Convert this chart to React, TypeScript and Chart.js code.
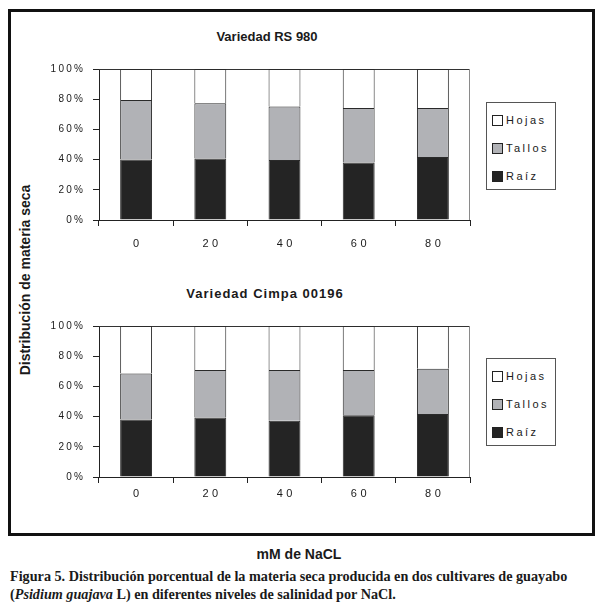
import React, { useEffect, useRef } from 'react';
import { Chart, registerables } from 'chart.js';

Chart.register(...registerables);

// ---- data ----
const categories = ['0', '20', '40', '60', '80'];
const seriesNames = ['Raíz', 'Tallos', 'Hojas'];
const seriesColors = ['#242424', '#b1b2b6', '#ffffff'];

const rsRaiz = [40.0, 40.7, 39.8, 38.0, 41.8];
const rsTallos = [39.4, 36.7, 35.4, 36.1, 32.3];
const rsHojas = [20.6, 22.6, 24.8, 25.9, 25.9];

const cimpaRaiz = [38.1, 39.4, 37.2, 40.9, 41.8];
const cimpaTallos = [30.5, 31.4, 33.6, 29.9, 29.9];
const cimpaHojas = [31.4, 29.2, 29.2, 29.2, 28.3];

const yTicks = [0, 20, 40, 60, 80, 100];

const SANS = '"Liberation Sans", Arial, Helvetica, sans-serif';
const SERIF = '"Liberation Serif", "Times New Roman", serif';

function makeTickPlugin(xLabelOffset: number) {
  return {
    id: 'tickLabels',
    beforeDatasetsDraw(chart: any) {
      const ctx = chart.ctx;
      const a = chart.chartArea;
      ctx.save();
      ctx.lineWidth = 1;
      // plot area frame: top (dark) and right (gray)
      ctx.strokeStyle = '#333';
      ctx.beginPath();
      ctx.moveTo(a.left, Math.round(a.top) + 0.5);
      ctx.lineTo(a.right, Math.round(a.top) + 0.5);
      ctx.stroke();
      ctx.strokeStyle = '#8a8a8a';
      ctx.beginPath();
      ctx.moveTo(Math.round(a.right) - 0.5, a.top);
      ctx.lineTo(Math.round(a.right) - 0.5, a.bottom);
      ctx.stroke();
      ctx.restore();
    },
    afterDraw(chart: any) {
      const ctx = chart.ctx;
      const xs = chart.scales.x;
      const ys = chart.scales.y;
      ctx.save();
      ctx.fillStyle = '#1a1a1a';
      // x labels
      ctx.font = `11px ${SANS}`;
      const xsp = 3.5;
      (ctx as any).letterSpacing = `${xsp}px`;
      ctx.textAlign = 'center';
      ctx.textBaseline = 'middle';
      xs.ticks.forEach((t: any, i: number) => {
        const px = xs.getPixelForTick(i);
        ctx.fillText(String(t.label), px + xsp / 2, xs.top + xLabelOffset);
      });
      // y labels
      ctx.font = `10px ${SANS}`;
      const ysp = 2.3;
      (ctx as any).letterSpacing = `${ysp}px`;
      ctx.textAlign = 'right';
      ys.ticks.forEach((t: any) => {
        const py = ys.getPixelForValue(t.value);
        ctx.fillText(String(t.label), ys.right - 16 + ysp, py);
      });
      ctx.restore();
    },
  };
}

function StackChart(props: {
  raiz: number[];
  tallos: number[];
  hojas: number[];
  left: number;
  top: number;
  xLabelOffset: number;
}) {
  const ref = useRef<HTMLCanvasElement | null>(null);
  useEffect(() => {
    if (!ref.current) return;
    const values = [props.raiz, props.tallos, props.hojas];
    const chart = new Chart(ref.current, {
      type: 'bar',
      data: {
        labels: categories,
        datasets: seriesNames.map((name, i) => ({
          label: name,
          data: values[i],
          backgroundColor: seriesColors[i],
          borderColor: '#2a2a2a',
          borderWidth: 1,
          borderSkipped: 'start',
          categoryPercentage: 0.43,
          barPercentage: 1,
        })),
      },
      options: {
        animation: false,
        responsive: false,
        maintainAspectRatio: false,
        layout: { padding: { top: 49, right: 10, left: 0, bottom: 0 } },
        plugins: { legend: { display: false }, title: { display: false }, tooltip: { enabled: false } },
        scales: {
          x: {
            stacked: true,
            offset: true,
            border: { display: true, color: '#222', width: 1 },
            grid: {
              offset: true,
              drawOnChartArea: false,
              drawTicks: true,
              tickLength: 6,
              tickColor: '#222',
              color: '#222',
            },
            ticks: { display: false },
            afterFit: (scale: any) => {
              scale.height = 40;
            },
          },
          y: {
            stacked: true,
            min: 0,
            max: 100,
            afterBuildTicks: (scale: any) => {
              scale.ticks = yTicks.map((v) => ({ value: v }));
            },
            border: { display: true, color: '#222', width: 1 },
            grid: {
              drawOnChartArea: false,
              drawTicks: true,
              tickLength: 6,
              tickColor: '#222',
              color: '#222',
            },
            ticks: { display: false, callback: (v: any) => `${v}%` },
            afterFit: (scale: any) => {
              scale.width = 59;
            },
          },
        },
      },
      plugins: [makeTickPlugin(props.xLabelOffset)],
    } as any);
    return () => chart.destroy();
  }, []);
  return (
    <canvas
      ref={ref}
      width={440}
      height={240}
      style={{ position: 'absolute', left: props.left, top: props.top, width: 440, height: 240 }}
    />
  );
}

function Legend(props: { left: number; top: number }) {
  const order = [2, 1, 0];
  return (
    <div
      style={{
        position: 'absolute',
        left: props.left,
        top: props.top,
        width: 70,
        height: 88,
        boxSizing: 'border-box',
        border: '1px solid #555',
        background: '#fff',
      }}
    >
      {order.map((i, k) => (
        <div
          key={i}
          style={{
            position: 'absolute',
            left: 5,
            top: 11 + k * 28,
            height: 12,
            display: 'flex',
            alignItems: 'center',
            font: `11px ${SANS}`,
            letterSpacing: '2.5px',
            color: '#1a1a1a',
            whiteSpace: 'nowrap',
          }}
        >
          <span
            style={{
              display: 'inline-block',
              width: 11,
              height: 11,
              boxSizing: 'border-box',
              border: '1px solid #222',
              background: seriesColors[i],
              marginRight: 3,
            }}
          />
          <span>{seriesNames[i]}</span>
        </div>
      ))}
    </div>
  );
}

function Title(props: { text: string; cx: number; cy: number; spacing: number }) {
  return (
    <div
      style={{
        position: 'absolute',
        left: props.cx - 150,
        top: props.cy - 8,
        width: 300,
        height: 16,
        lineHeight: '16px',
        textAlign: 'center',
        font: `bold 13px ${SANS}`,
        letterSpacing: `${props.spacing}px`,
        color: '#1a1a1a',
        whiteSpace: 'nowrap',
      }}
    >
      {props.text}
    </div>
  );
}

export default function App() {
  return (
    <div style={{ position: 'absolute', left: 0, top: 0, width: 605, height: 614, background: '#fff' }}>
      <div
        style={{
          position: 'absolute',
          left: 8,
          top: 9,
          width: 587,
          height: 527,
          boxSizing: 'border-box',
          border: '3px solid #111',
        }}
      />
      <Title text="Variedad RS 980" cx={267} cy={37} spacing={0} />
      <Title text="Variedad Cimpa 00196" cx={265} cy={294} spacing={1} />
      <StackChart raiz={rsRaiz} tallos={rsTallos} hojas={rsHojas} left={40} top={20} xLabelOffset={24} />
      <StackChart raiz={cimpaRaiz} tallos={cimpaTallos} hojas={cimpaHojas} left={40} top={277} xLabelOffset={16.5} />
      <Legend left={486} top={102} />
      <Legend left={486} top={358} />
      <div
        style={{
          position: 'absolute',
          left: 26 - 150,
          top: 280 - 9,
          width: 300,
          height: 18,
          lineHeight: '18px',
          textAlign: 'center',
          transform: 'rotate(-90deg)',
          font: `bold 14px ${SANS}`,
          color: '#1a1a1a',
          whiteSpace: 'nowrap',
        }}
      >
        Distribución de materia seca
      </div>
      <div
        style={{
          position: 'absolute',
          left: 299 - 150,
          top: 546,
          width: 300,
          height: 18,
          lineHeight: '18px',
          textAlign: 'center',
          font: `bold 14px ${SANS}`,
          color: '#1a1a1a',
          whiteSpace: 'nowrap',
        }}
      >
        mM de NaCL
      </div>
      <div
        style={{
          position: 'absolute',
          left: 10,
          top: 567,
          font: `bold 14.2px ${SERIF}`,
          lineHeight: '18px',
          color: '#1a1a1a',
          whiteSpace: 'nowrap',
        }}
      >
        <div>Figura 5. Distribución porcentual de la materia seca producida en dos cultivares de guayabo</div>
        <div>
          (<i>Psidium guajava</i> L) en diferentes niveles de salinidad por NaCl.
        </div>
      </div>
    </div>
  );
}
